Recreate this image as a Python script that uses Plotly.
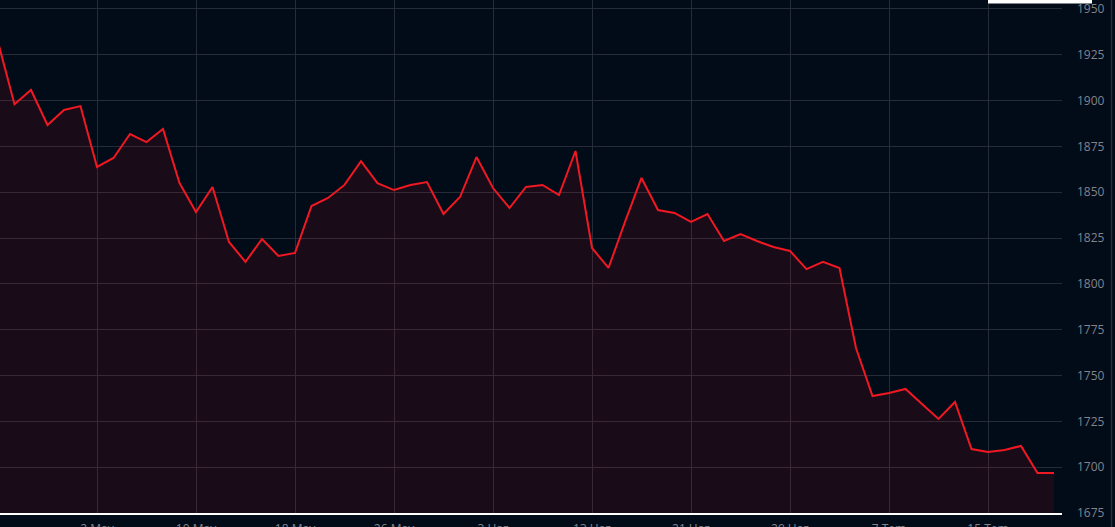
import plotly.graph_objects as go

# Trading days (category axis)
dates = [
    "2022-04-22", "2022-04-25", "2022-04-26", "2022-04-27", "2022-04-28", "2022-04-29",
    "2022-05-02", "2022-05-03", "2022-05-04", "2022-05-05", "2022-05-06",
    "2022-05-09", "2022-05-10", "2022-05-11", "2022-05-12", "2022-05-13",
    "2022-05-16", "2022-05-17", "2022-05-18", "2022-05-19", "2022-05-20",
    "2022-05-23", "2022-05-24", "2022-05-25", "2022-05-26", "2022-05-27",
    "2022-05-30", "2022-05-31", "2022-06-01", "2022-06-02", "2022-06-03",
    "2022-06-06", "2022-06-07", "2022-06-08", "2022-06-09", "2022-06-10",
    "2022-06-13", "2022-06-14", "2022-06-15", "2022-06-16", "2022-06-17",
    "2022-06-20", "2022-06-21", "2022-06-22", "2022-06-23", "2022-06-24",
    "2022-06-27", "2022-06-28", "2022-06-29", "2022-06-30", "2022-07-01",
    "2022-07-04", "2022-07-05", "2022-07-06", "2022-07-07", "2022-07-08",
    "2022-07-11", "2022-07-12", "2022-07-13", "2022-07-14", "2022-07-15",
    "2022-07-18", "2022-07-19", "2022-07-20", "2022-07-21",
]

prices = [
    1932.0, 1898.0, 1905.8, 1886.7, 1894.9, 1897.0,
    1863.8, 1868.7, 1881.8, 1877.4, 1884.5,
    1855.0, 1839.2, 1852.9, 1822.9, 1812.0,
    1824.5, 1815.2, 1816.9, 1842.5, 1846.9,
    1854.0, 1867.0, 1855.0, 1851.2, 1854.0,
    1855.6, 1838.1, 1847.4, 1869.2, 1852.3,
    1841.4, 1852.9, 1854.0, 1848.5, 1872.5,
    1819.6, 1808.7, 1833.8, 1857.8, 1840.3,
    1838.7, 1833.8, 1838.1, 1823.4, 1827.2,
    1823.4, 1820.1, 1818.0, 1808.1, 1812.0,
    1808.7, 1765.0, 1738.8, 1740.5, 1742.7,
    1734.5, 1726.3, 1735.6, 1709.9, 1708.3,
    1709.4, 1711.6, 1696.8, 1696.8,
]

tick_dates = ["2022-04-22", "2022-05-02", "2022-05-10", "2022-05-18", "2022-05-26",
              "2022-06-03", "2022-06-13", "2022-06-21", "2022-06-29", "2022-07-07",
              "2022-07-15"]
tick_labels = ["22 Nis", "2 May", "10 May", "18 May", "26 May",
               "3 Haz", "13 Haz", "21 Haz", "29 Haz", "7 Tem", "15 Tem"]

y_ticks = [1675, 1700, 1725, 1750, 1775, 1800, 1825, 1850, 1875, 1900, 1925, 1950]

BG = "#020b18"
GRID = "#262b38"
TXT = "#80848d"

fig = go.Figure()
fig.add_trace(go.Scatter(
    x=dates, y=prices, mode="lines",
    line=dict(color="#f01822", width=2),
    fill="tozeroy", fillcolor="rgba(240,20,30,0.10)",
    hoverinfo="skip",
))

W, H = 1115, 527
L, R, T, B = 0, 53, 0, 14
plot_w = W - L - R

fig.update_layout(
    width=W, height=H, autosize=False,
    margin=dict(l=L, r=R, t=T, b=B, pad=0),
    paper_bgcolor=BG, plot_bgcolor=BG,
    showlegend=False,
    font=dict(family="Open Sans", size=12, color=TXT),
    xaxis=dict(
        type="category", automargin=False,
        range=[0.121, 64.485],
        tickmode="array", tickvals=tick_dates, ticktext=tick_labels,
        showgrid=True, gridcolor=GRID, gridwidth=1,
        showline=True, linecolor="#ffffff", linewidth=2,
        ticks="", ticklabelstandoff=4,
        tickfont=dict(size=12, color=TXT),
        zeroline=False, fixedrange=True,
    ),
    yaxis=dict(
        side="right", automargin=False,
        range=[1675, 1954.9],
        tickmode="array", tickvals=y_ticks,
        showgrid=True, gridcolor=GRID, gridwidth=1,
        ticks="", ticklabelstandoff=14,
        tickfont=dict(size=12, color=TXT),
        zeroline=False, showline=False, fixedrange=True,
    ),
    shapes=[
        dict(type="line", xref="paper", yref="paper",
             x0=1111.5 / plot_w, x1=1111.5 / plot_w, y0=-0.05, y1=1.05,
             line=dict(color="#2a2e39", width=1.5), layer="above"),
        dict(type="rect", xref="paper", yref="paper",
             x0=988 / plot_w, x1=1092 / plot_w, y0=1 - 3.5 / 513, y1=1.05,
             fillcolor="#ffffff", line=dict(width=0), layer="above"),
    ],
)

fig.write_html(
    "out.html",
    config={"displayModeBar": False, "staticPlot": True},
    post_script="document.body.style.margin='0';document.body.style.overflow='hidden';"
                "document.body.style.background='" + BG + "';",
)
